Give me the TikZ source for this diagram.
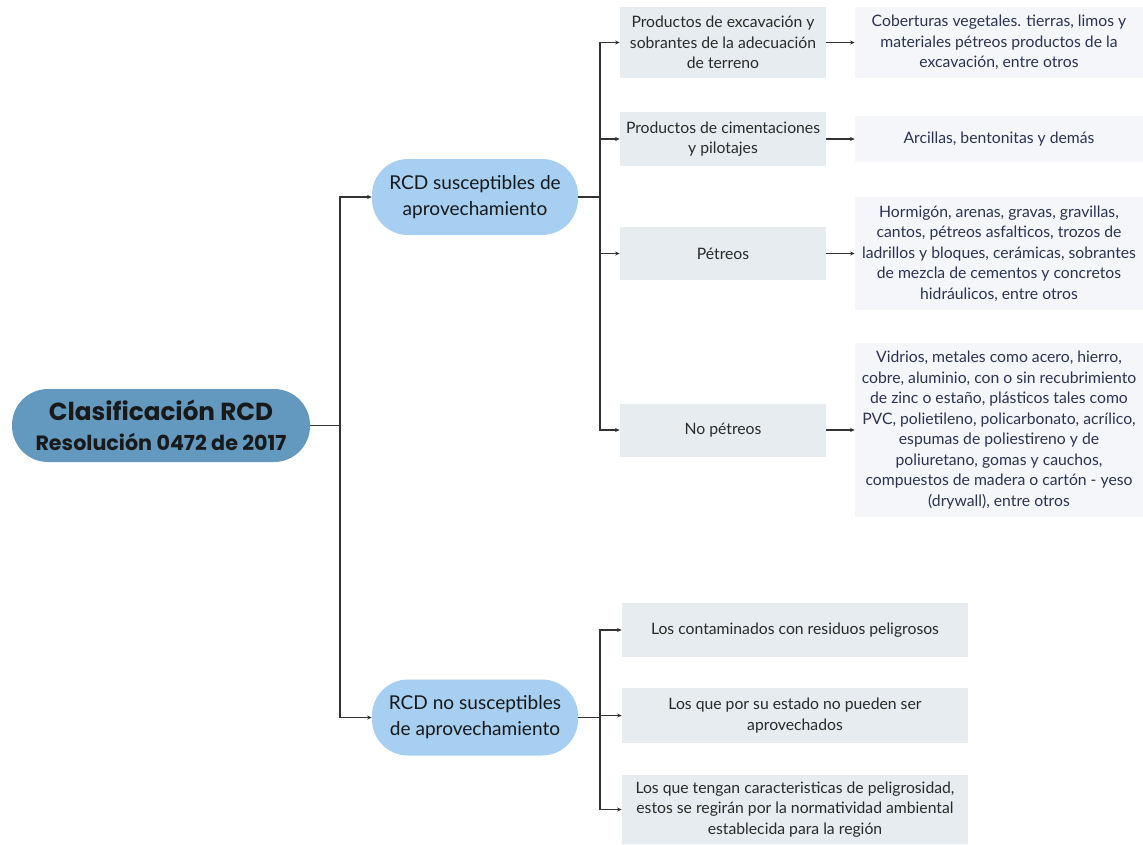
\documentclass[tikz,border=0pt]{standalone}
\usepackage{fontspec}
\setmainfont{Lato}
\newfontfamily\rootfont{Poppins}
\usetikzlibrary{arrows.meta}
\definecolor{rootblue}{HTML}{6399BF}
\definecolor{lightblue}{HTML}{A6CFF2}
\definecolor{boxgray}{HTML}{E6ECEF}
\definecolor{leafgray}{HTML}{F5F6F9}
\definecolor{leaftext}{HTML}{2C3350}
\definecolor{boxtext}{HTML}{2A2A2A}
\definecolor{linegray}{HTML}{333333}
\tikzset{
  rootnode/.style={fill=rootblue, rounded corners=27pt, minimum width=223.5pt, minimum height=54.75pt, align=center, inner sep=0pt, text=black!90, font=\rootfont\bfseries\fontsize{15.5}{22.5}\selectfont},
  lonenode/.style={fill=lightblue, rounded corners=27pt, minimum width=154.5pt, minimum height=57pt, align=center, inner sep=0pt, text=black!90, font=\fontsize{14.3}{19.5}\selectfont},
  boxnode/.style={fill=boxgray, minimum width=154.5pt, align=center, inner sep=0pt, text=boxtext, font=\fontsize{11.8}{15.4}\selectfont},
  widebox/.style={fill=boxgray, minimum width=259.5pt, align=center, inner sep=0pt, text=boxtext, font=\fontsize{11.8}{15.4}\selectfont},
  leafnode/.style={fill=leafgray, minimum width=216pt, align=center, inner sep=0pt, text=leaftext, font=\fontsize{11.8}{15.4}\selectfont},
  conn/.style={draw=linegray, line width=0.9pt, -{Stealth[length=3.5pt,width=3pt]}}
}
\begin{document}
\begin{tikzpicture}[x=0.75pt,y=-0.75pt]
\useasboundingbox (0,0) rectangle (1143,844);
% root
\node[rootnode] (root) at (161,425.5) {{\fontsize{18.5}{22.5}\selectfont Clasificación RCD}\\Resolución 0472 de 2017};
% level 1
\node[lonenode] (la) at (475,197) {RCD susceptibles de\\aprovechamiento};
\node[lonenode] (lb) at (475,717.5) {RCD no susceptibles\\de aprovechamiento};
% level 2 (upper)
\node[boxnode, minimum height=53.25pt] (ba) at (723,42.5) {Productos de excavación y\\sobrantes de la adecuación\\de terreno};
\node[boxnode, minimum height=40.5pt] (bb) at (723,139) {Productos de cimentaciones\\y pilotajes};
\node[boxnode, minimum height=39.75pt] (bc) at (723,253.5) {Pétreos};
\node[boxnode, minimum height=39.75pt] (bd) at (723,430) {No pétreos};
% leaves
\node[leafnode, minimum height=53.25pt] (fa) at (999,42.5) {Coberturas vegetales. tierras, limos y\\materiales pétreos productos de la\\excavación, entre otros};
\node[leafnode, minimum height=34.5pt] (fb) at (999,139) {Arcillas, bentonitas y demás};
\node[leafnode, minimum height=84.75pt] (fc) at (999,253.5) {Hormigón, arenas, gravas, gravillas,\\cantos, pétreos asfalticos, trozos de\\ladrillos y bloques, cerámicas, sobrantes\\de mezcla de cementos y concretos\\hidráulicos, entre otros};
\node[leafnode, minimum height=130.5pt] (fd) at (999,430) {Vidrios, metales como acero, hierro,\\cobre, aluminio, con o sin recubrimiento\\de zinc o estaño, plásticos tales como\\PVC, polietileno, policarbonato, acrílico,\\espumas de poliestireno y de\\poliuretano, gomas y cauchos,\\compuestos de madera o cartón - yeso\\(drywall), entre otros};
% level 2 (lower)
\node[widebox, minimum height=40.5pt] (be) at (795,630) {Los contaminados con residuos peligrosos};
\node[widebox, minimum height=41.25pt] (bf) at (795,715.5) {Los que por su estado no pueden ser\\aprovechados};
\node[widebox, minimum height=51.75pt] (bg) at (795,809.5) {Los que tengan caracteristicas de peligrosidad,\\estos se regirán por la normatividad ambiental\\establecida para la región};
% junction coordinates
\coordinate (j0) at (340,425.5);
\coordinate (j1) at (600,197);
\coordinate (j2) at (600,717.5);
% connectors
\draw[conn] (root.east) -- (j0) |- (la.west);
\draw[conn] (root.east) -- (j0) |- (lb.west);
\draw[conn] (la.east) -- (j1) |- (ba.west);
\draw[conn] (la.east) -- (j1) |- (bb.west);
\draw[conn] (la.east) -- (j1) |- (bc.west);
\draw[conn] (la.east) -- (j1) |- (bd.west);
\draw[conn] (lb.east) -- (j2) |- (be.west);
\draw[conn] (lb.east) -- (j2) |- (bf.west);
\draw[conn] (lb.east) -- (j2) |- (bg.west);
\draw[conn] (ba.east) -- (fa.west);
\draw[conn] (bb.east) -- (fb.west);
\draw[conn] (bc.east) -- (fc.west);
\draw[conn] (bd.east) -- (fd.west);
\end{tikzpicture}
\end{document}
